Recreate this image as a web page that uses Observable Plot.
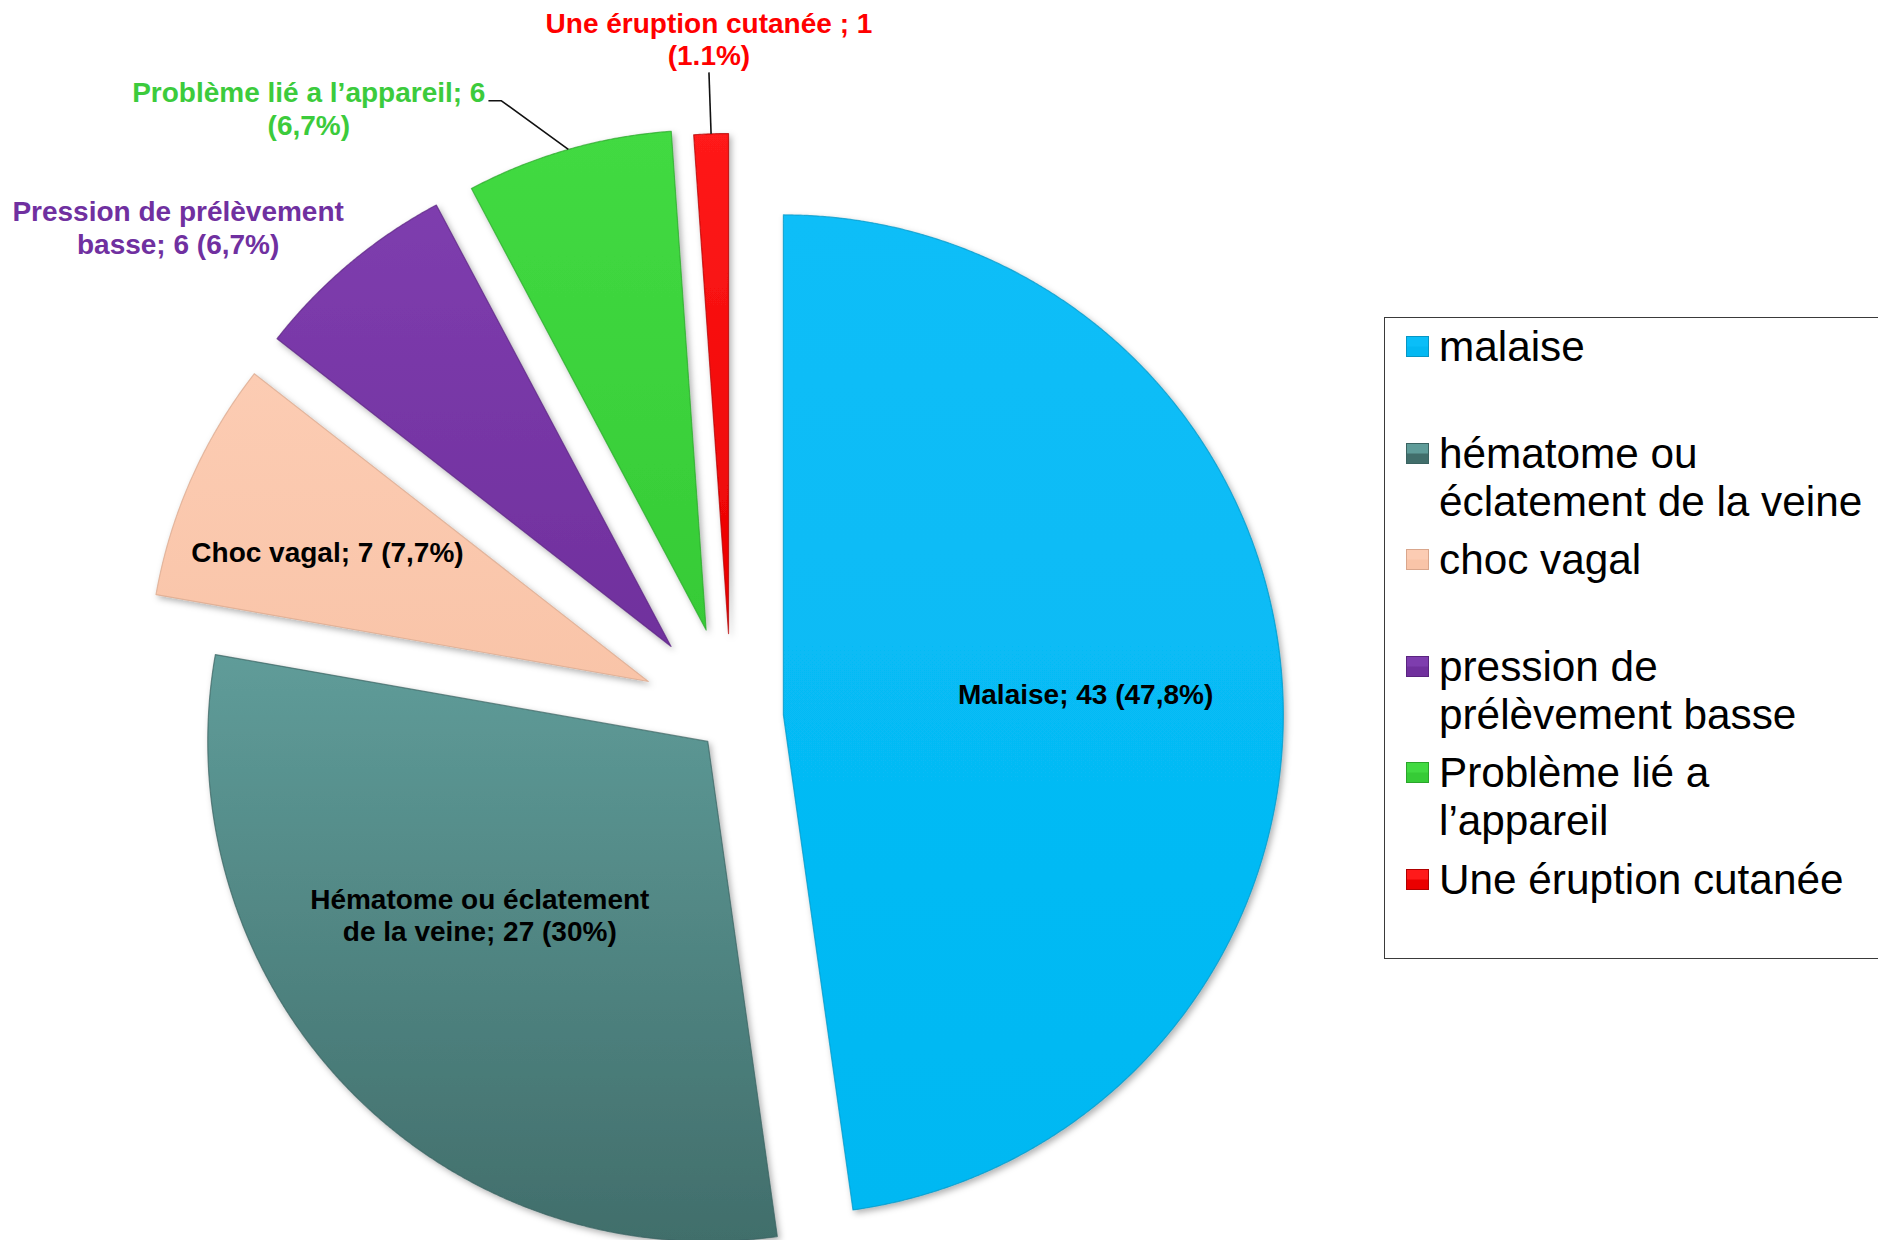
<!DOCTYPE html>
<html><head><meta charset="utf-8">
<script src="https://cdn.jsdelivr.net/npm/d3@7"></script>
<script src="https://cdn.jsdelivr.net/npm/@observablehq/plot@0.6"></script>
<style>
html,body{margin:0;padding:0;background:#fff;overflow:hidden;}
#wrap{position:relative;width:1878px;height:1240px;overflow:hidden;background:#fff;}
#chart{position:absolute;left:0;top:0;}
#legend{position:absolute;left:1384px;top:317px;width:620px;height:642px;border:1.5px solid #3a3a3a;box-sizing:border-box;font-family:"Liberation Sans",Arial,sans-serif;font-size:42.3px;color:#000;}
.item{position:absolute;left:0;}
.sw{position:absolute;left:21px;top:13px;width:23px;height:21px;box-sizing:border-box;}
.tx{position:absolute;left:54px;top:0;line-height:48px;white-space:pre;}
</style></head><body>
<div id="wrap"><div id="chart"></div><div id="legend"></div></div>
<script>
// ---- data ----
const categories = ["Malaise", "Hématome ou éclatement de la veine", "Choc vagal", "Pression de prélèvement basse", "Problème lié a l’appareil", "Une éruption cutanée"];
const counts = [43, 27, 7, 6, 6, 1];
const percents = ["47,8%", "30%", "7,7%", "6,7%", "6,7%", "1.1%"];
const sliceLabels = ["Malaise; 43 (47,8%)", "Hématome ou éclatement\nde la veine; 27 (30%)", "Choc vagal; 7 (7,7%)", "Pression de prélèvement\nbasse; 6 (6,7%)", "Problème lié a l’appareil; 6\n(6,7%)", "Une éruption cutanée ; 1\n(1.1%)"];
const legendLabels = ["malaise", "hématome ou\néclatement de la veine", "choc vagal", "pression de\nprélèvement basse", "Problème lié a\nl’appareil", "Une éruption cutanée"];

// ---- style ----
const gradTop    = ["#0ABEF8", "#5F9C99", "#FCCCB3", "#7E3DAE", "#42DA42", "#FF1A1A"];
const gradBottom = ["#03B8F2", "#416E6B", "#F9C4A8", "#70309D", "#36CB36", "#EA0000"];
const edgeColors = ["#0796C4", "#3A6361", "#D9A68C", "#5A2480", "#2AA52A", "#B00000"];
const labelColors = ["#000000", "#000000", "#000000", "#7030A0", "#3CCB3C", "#FF0000"];
const explode = [0.104, 0.066, 0.182, 0.188, 0.184, 0.17];
const labelPolar = [[0.71, 85.9], [0.638, 232.1], [0.874, 292.4], [1.48, 311.6], [1.485, 325.3], [1.36, 358.1]];
const W = 1878, H = 1240, R = 500, CX = 731, CY = 718;
const FONT = "'Liberation Sans', Arial, Helvetica, sans-serif";
const LABEL_SIZE = 28, LABEL_LH = 1.16;

// ---- geometry from data ----
const total = d3.sum(counts);
const rad = Math.PI / 180;
let acc = 0;
const slices = counts.map((v, i) => {
  const a0 = acc / total * 2 * Math.PI; acc += v;
  const a1 = acc / total * 2 * Math.PI;
  const mid = (a0 + a1) / 2, e = explode[i];
  return {i, a0, a1, mid, vx: e * Math.sin(mid), vy: e * Math.cos(mid)};
});
const rows = [];
for (const s of slices) {
  const base = {cat: categories[s.i], fill: `url(#g${s.i})`, stroke: edgeColors[s.i]};
  rows.push({...base, x: s.vx, y: s.vy});
  const n = Math.max(2, Math.ceil((s.a1 - s.a0) / (0.25 * rad)));
  for (let k = 0; k <= n; k++) {
    const t = s.a0 + (s.a1 - s.a0) * k / n;
    rows.push({...base, x: s.vx + Math.sin(t), y: s.vy + Math.cos(t)});
  }
}
const labels = slices.map(s => {
  const [r, deg] = labelPolar[s.i];
  return {text: sliceLabels[s.i], x: r * Math.sin(deg * rad), y: r * Math.cos(deg * rad), fill: labelColors[s.i]};
});

// leader lines (from arc midpoint to label)
const ctx = document.createElement("canvas").getContext("2d");
ctx.font = `bold ${LABEL_SIZE}px 'Liberation Sans', Arial`;
const lh = LABEL_SIZE * LABEL_LH;
const leaders = [];
{
  const s = slices[4], L = labels[4];
  const w = ctx.measureText(sliceLabels[4].split("\n")[0]).width;
  const endX = L.x + (w / 2 + 3) / R, endY = L.y + (lh / 2 - 9) / R;
  leaders.push({id: 4, x: s.vx + Math.sin(s.mid), y: s.vy + Math.cos(s.mid)});
  leaders.push({id: 4, x: endX + 13 / R, y: endY});
  leaders.push({id: 4, x: endX, y: endY});
}
{
  const s = slices[5], L = labels[5];
  leaders.push({id: 5, x: s.vx + Math.sin(s.mid), y: s.vy + Math.cos(s.mid)});
  leaders.push({id: 5, x: L.x, y: L.y - (lh + 1) / R});
}

const plot = Plot.plot({
  width: W, height: H, margin: 0,
  x: {domain: [-CX / R, (W - CX) / R], range: [0, W], axis: null},
  y: {domain: [-(H - CY) / R, CY / R], range: [H, 0], axis: null},
  color: {type: "identity"},
  style: {background: "transparent", fontFamily: FONT, overflow: "visible"},
  marks: [
    Plot.line(rows, {x: "x", y: "y", z: "cat", fill: "fill", stroke: "stroke", strokeWidth: 1.2, strokeOpacity: 0.7, curve: "linear-closed"}),
    Plot.line(leaders, {x: "x", y: "y", z: "id", stroke: "#111", strokeWidth: 1.6, strokeLinecap: "butt"}),
    Plot.text(labels, {x: "x", y: "y", text: "text", fill: "fill", fontSize: LABEL_SIZE, fontWeight: "bold", lineHeight: LABEL_LH, textAnchor: "middle", fontFamily: FONT})
  ]
});

// gradients + shadow
const ns = "http://www.w3.org/2000/svg";
const defs = document.createElementNS(ns, "defs");
let html = `<filter id="shadow" x="-10%" y="-10%" width="130%" height="130%"><feDropShadow dx="2.5" dy="3" stdDeviation="3" flood-color="#000" flood-opacity="0.3"/></filter>`;
gradTop.forEach((c, i) => {
  html += `<linearGradient id="g${i}" x1="0" y1="0" x2="0" y2="1"><stop offset="0" stop-color="${c}"/><stop offset="1" stop-color="${gradBottom[i]}"/></linearGradient>`;
});
defs.innerHTML = html;
plot.insertBefore(defs, plot.firstChild);
const sliceGroup = plot.querySelector('g[aria-label="line"]');
if (sliceGroup) sliceGroup.setAttribute("filter", "url(#shadow)");
document.getElementById("chart").appendChild(plot);

// legend (HTML)
const legend = document.getElementById("legend");
legendLabels.forEach((t, i) => {
  const item = document.createElement("div");
  item.className = "item";
  item.style.top = (5 + i * 106.6) + "px";
  item.style.width = "600px";
  const sw = document.createElement("div");
  sw.className = "sw";
  sw.style.background = `linear-gradient(to bottom, ${gradTop[i]} 0%, ${gradTop[i]} 45%, ${gradBottom[i]} 55%, ${gradBottom[i]} 100%)`;
  sw.style.border = `1px solid ${edgeColors[i]}`;
  const tx = document.createElement("div");
  tx.className = "tx";
  tx.textContent = t;
  item.appendChild(sw); item.appendChild(tx);
  legend.appendChild(item);
});
</script></body></html>
